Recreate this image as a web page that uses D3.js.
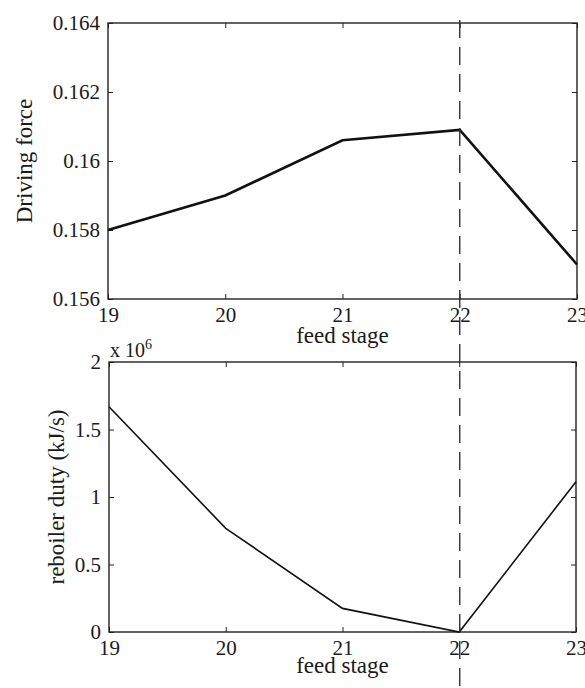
<!DOCTYPE html>
<html><head><meta charset="utf-8">
<script src="https://cdn.jsdelivr.net/npm/d3@7"></script>
<style>body{margin:0;background:#fff}svg{display:block}
svg text{font-family:"Liberation Serif","Times New Roman",Times,"Nimbus Roman","DejaVu Serif",serif !important;fill:#1a1a1a}</style>
</head><body>
<script>
const stages = [19, 20, 21, 22, 23];
const drivingForce = [0.1580, 0.1590, 0.1606, 0.1609, 0.1570];
const reboilerDuty = [1.669e6, 0.768e6, 0.175e6, 0.0, 1.113e6];
const xTicks = [19, 20, 21, 22, 23];
const topYTicks = [0.156, 0.158, 0.160, 0.162, 0.164];
const topYTickLabels = ["0.156", "0.158", "0.16", "0.162", "0.164"];
const botYTicks = [0, 0.5e6, 1e6, 1.5e6, 2e6];
const botYTickLabels = ["0", "0.5", "1", "1.5", "2"];
const optimalStage = 22;

const W = 585, H = 688;
const svg = d3.select("body").append("svg").attr("width", W).attr("height", H);
const FONT = "'Liberation Serif', 'Times New Roman', Times, 'DejaVu Serif', serif";

const axisColor = "#222";
function panel(cfg) {
  const x = d3.scaleLinear().domain([19, 23]).range([cfg.left, cfg.right]);
  const y = d3.scaleLinear().domain(cfg.yDomain).range([cfg.bottom, cfg.top]);
  const g = svg.append("g");
  g.append("rect").attr("x", cfg.left).attr("y", cfg.top)
    .attr("width", cfg.right - cfg.left).attr("height", cfg.bottom - cfg.top)
    .attr("fill", "none").attr("stroke", axisColor).attr("stroke-width", 1.4);
  const ax = (gen, tx, ty) => {
    const a = g.append("g").attr("transform", `translate(${tx},${ty})`).call(gen);
    a.attr("font-family", FONT);
    a.select(".domain").remove();
    a.selectAll("line").attr("stroke", axisColor).attr("stroke-width", 1);
    a.selectAll("text").attr("font-family", FONT).attr("font-size", 21).attr("fill", "#1a1a1a");
    return a;
  };
  ax(d3.axisBottom(x).tickValues(xTicks).tickSize(-5).tickSizeOuter(0).tickPadding(8).tickFormat(d3.format("d")), 0, cfg.bottom);
  ax(d3.axisTop(x).tickValues(xTicks).tickSize(-5).tickSizeOuter(0).tickFormat(""), 0, cfg.top);
  ax(d3.axisLeft(y).tickValues(cfg.yTicks).tickSize(-5).tickSizeOuter(0).tickPadding(8)
      .tickFormat((d, i) => cfg.yLabels[i]), cfg.left, 0);
  ax(d3.axisRight(y).tickValues(cfg.yTicks).tickSize(-5).tickSizeOuter(0).tickFormat(""), cfg.right, 0);
  const line = d3.line().x((d, i) => x(stages[i])).y(d => y(d));
  g.append("path").datum(cfg.values).attr("d", line)
    .attr("fill", "none").attr("stroke", "#111").attr("stroke-width", cfg.lw).attr("stroke-linejoin", "miter");
  g.append("text").attr("x", (cfg.left + cfg.right) / 2).attr("y", cfg.xLabelY)
    .attr("text-anchor", "middle").attr("font-family", FONT).attr("font-size", 23).text("feed stage");
  g.append("text").attr("transform", `translate(${cfg.yLabelX},${(cfg.top + cfg.bottom) / 2}) rotate(-90)`)
    .attr("text-anchor", "middle").attr("font-family", FONT).attr("font-size", 23).text(cfg.yLabel);
  return {x, y};
}

const p1 = panel({left: 108, right: 577, top: 23, bottom: 299, yDomain: [0.156, 0.164],
  yTicks: topYTicks, yLabels: topYTickLabels, values: drivingForce, lw: 2.6,
  xLabelY: 343, yLabelX: 32, yLabel: "Driving force"});

const p2 = panel({left: 109, right: 576, top: 362, bottom: 632, yDomain: [0, 2e6],
  yTicks: botYTicks, yLabels: botYTickLabels, values: reboilerDuty, lw: 1.6,
  xLabelY: 673, yLabelX: 64, yLabel: "reboiler duty (kJ/s)"});

const ex = svg.append("text").attr("x", 110).attr("y", 357).attr("font-family", FONT).attr("font-size", 20);
ex.append("tspan").text("x 10");
ex.append("tspan").attr("dy", -8).attr("font-size", 14).text("6");

svg.append("line").attr("x1", p1.x(optimalStage)).attr("x2", p1.x(optimalStage))
  .attr("y1", 20).attr("y2", H)
  .attr("stroke", "#333").attr("stroke-width", 1.4).attr("stroke-dasharray", "18,9");
</script>
</body></html>
